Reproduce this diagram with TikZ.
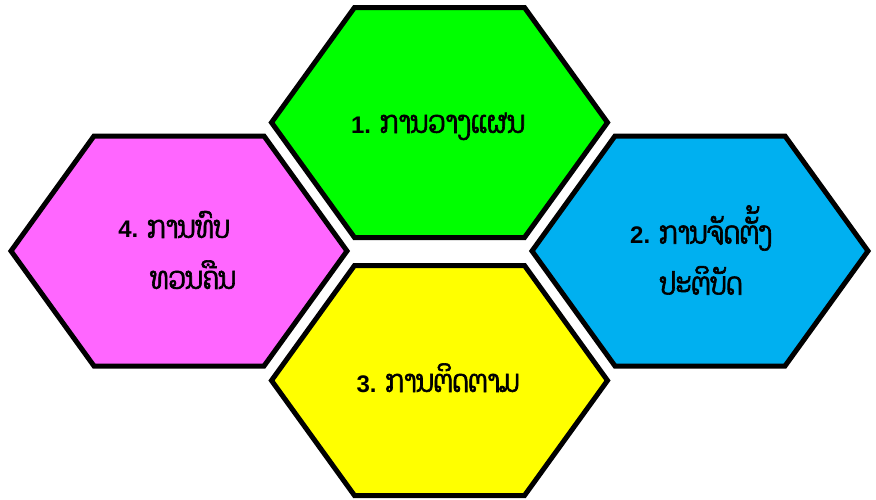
\documentclass[tikz,border=0pt]{standalone}
\usepackage{fontspec}
\usepackage{xcolor}
\newfontfamily\laofont[Script=Lao, AutoFakeBold=2, Scale=1.3, FakeStretch=0.8]{Dhyana}
\newfontfamily\numfont{Liberation Sans}

\definecolor{planfill}{HTML}{00FF00}
\definecolor{implfill}{HTML}{00B0F0}
\definecolor{monfill}{HTML}{FFFF00}
\definecolor{revfill}{HTML}{FF66FF}

\begin{document}
\begin{tikzpicture}[x=1pt,y=-1pt,
    hexcell/.style={draw=black, line width=5pt, line join=miter},
    steplabel/.style={font=\fontsize{24}{51}\selectfont\bfseries, align=center, inner sep=0pt}]
      % hexagon size
      \def\rw{168}  % half width (tip)
      \def\tw{85}   % half top edge
      \def\hh{115}  % half height

      \useasboundingbox (0,0) rectangle (876,499);

      % 1: top
      \draw[hexcell, fill=planfill, shift={(439.5,122.5)}]
        (-\rw,0) -- (-\tw,-\hh) -- (\tw,-\hh) -- (\rw,0) -- (\tw,\hh) -- (-\tw,\hh) -- cycle;

      % 2: right
      \draw[hexcell, fill=implfill, shift={(700,251)}]
        (-\rw,0) -- (-\tw,-\hh) -- (\tw,-\hh) -- (\rw,0) -- (\tw,\hh) -- (-\tw,\hh) -- cycle;

      % 3: bottom
      \draw[hexcell, fill=monfill, shift={(439.5,380.5)}]
        (-\rw,0) -- (-\tw,-\hh) -- (\tw,-\hh) -- (\rw,0) -- (\tw,\hh) -- (-\tw,\hh) -- cycle;

      % 4: left
      \draw[hexcell, fill=revfill, shift={(179,251)}]
        (-\rw,0) -- (-\tw,-\hh) -- (\tw,-\hh) -- (\rw,0) -- (\tw,\hh) -- (-\tw,\hh) -- cycle;

      % labels
      \node[steplabel, anchor=base] (plan) at (438,133) {\numfont 1. \laofont ການວາງແຜນ};
      \node[steplabel] (impl) at (701,250) {\numfont 2. \laofont ການຈັດຕັ້ງ\\\laofont ປະຕິບັດ};
      \node[steplabel, anchor=base] (mon) at (438,392) {\numfont 3. \laofont ການຕິດຕາມ};
      \node[steplabel] (rev) at (174,250) {\numfont 4. \laofont ການທົບ\\\hspace*{38pt}\laofont ທວນຄືນ};
    \end{tikzpicture}
\end{document}
